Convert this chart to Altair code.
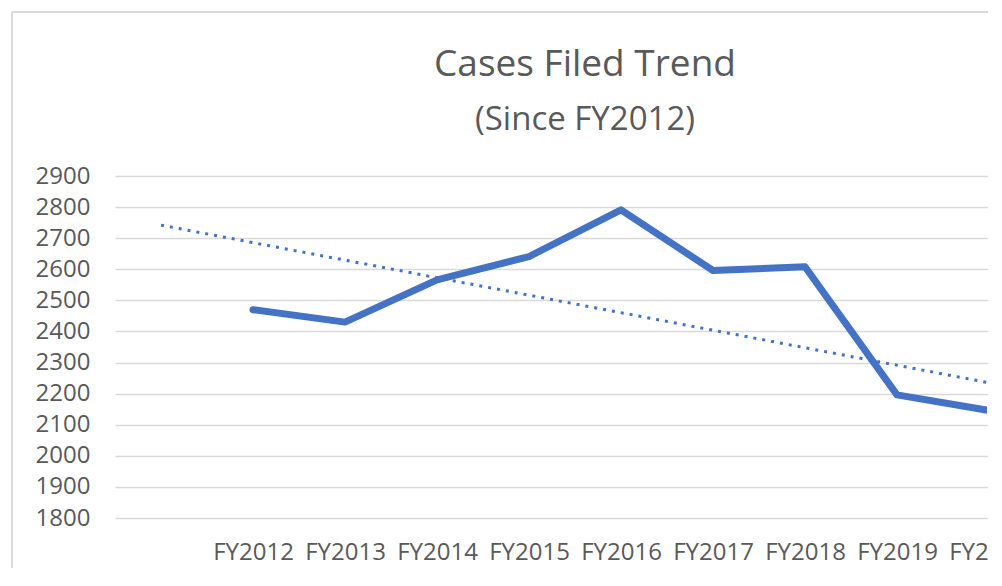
import altair as alt
import pandas as pd

# ---- data ----
categories = [" ", "FY2012", "FY2013", "FY2014", "FY2015", "FY2016",
              "FY2017", "FY2018", "FY2019", "FY2020"]
years = ["FY2012", "FY2013", "FY2014", "FY2015", "FY2016",
         "FY2017", "FY2018", "FY2019", "FY2020"]
cases = [2470, 2430, 2566, 2641, 2791, 2596, 2608, 2196, 2146]
trend_years = [" ", "FY2020"]
trend_values = [2742, 2235]
y_ticks = [1800, 1900, 2000, 2100, 2200, 2300, 2400, 2500, 2600, 2700, 2800, 2900]
title_text = "Cases Filed Trend"
subtitle_text = "(Since FY2012)"

series = pd.DataFrame({"year": years, "cases": cases})
trend = pd.DataFrame({"year": trend_years, "cases": trend_values})
one_row = pd.DataFrame({"t": [title_text], "s": [subtitle_text]})

BLUE = "#4472C4"
GRID = "#d9d9d9"
TEXT = "#595959"
FONT = "Open Sans"

W, H = 872, 342

x_enc = alt.X(
    "year:O",
    scale=alt.Scale(type="point", domain=categories, range=[0, 920], padding=0.5),
    sort=categories,
    axis=alt.Axis(title=None, labelAngle=0, labelAlign="center", labelBaseline="top",
                  domain=False, ticks=False, grid=False,
                  labelFont=FONT, labelFontSize=24, labelColor=TEXT,
                  labelPadding=22, labelOverlap=False, labelBound=False, labelFlush=False),
)
y_enc = alt.Y(
    "cases:Q",
    scale=alt.Scale(domain=[1800, 2900], nice=False, zero=False),
    axis=alt.Axis(title=None, values=y_ticks, format="d", domain=False, ticks=False,
                  grid=True, gridColor=GRID, gridWidth=1.5, labelOverlap=False,
                  labelFlush=False, labelBound=False,
                  labelFont=FONT, labelFontSize=24, labelColor=TEXT,
                  labelPadding=25),
)

trend_line = alt.Chart(trend).mark_line(
    color=BLUE, strokeWidth=3, strokeDash=[3, 6], clip=True
).encode(x=x_enc, y=y_enc)

line = alt.Chart(series).mark_line(
    color=BLUE, strokeWidth=7, strokeCap="round", strokeJoin="round", clip=True
).encode(x=x_enc, y=y_enc)

border_top = alt.Chart(one_row).mark_rule(color=GRID, strokeWidth=2).encode(
    x=alt.value(-103), x2=alt.value(880), y=alt.value(-164)
)
border_left = alt.Chart(one_row).mark_rule(color=GRID, strokeWidth=2).encode(
    x=alt.value(-103), y=alt.value(-164), y2=alt.value(420)
)
title = alt.Chart(one_row).mark_text(
    font=FONT, fontSize=37, color=TEXT, align="center", baseline="alphabetic"
).encode(text="t:N", x=alt.value(470), y=alt.value(-100))
subtitle = alt.Chart(one_row).mark_text(
    font=FONT, fontSize=33, color=TEXT, align="center", baseline="alphabetic"
).encode(text="s:N", x=alt.value(470), y=alt.value(-46))

chart = (
    alt.layer(trend_line, line, border_top, border_left, title, subtitle)
    .properties(
        width=W,
        height=H,
        autosize=alt.AutoSizeParams(type="none"),
        padding={"left": 107, "top": 168, "right": 1, "bottom": 50},
        view=alt.ViewBackground(stroke="transparent", strokeWidth=0, fill="white"),
    )
    .configure_view(stroke="transparent", strokeWidth=0)
    .configure_axis(domain=False, ticks=False, domainWidth=0, tickWidth=0)
    .configure_axisX(grid=False)
    .configure(background="white")
)

chart.save("out.html", embed_options={"renderer": "svg", "actions": False})
